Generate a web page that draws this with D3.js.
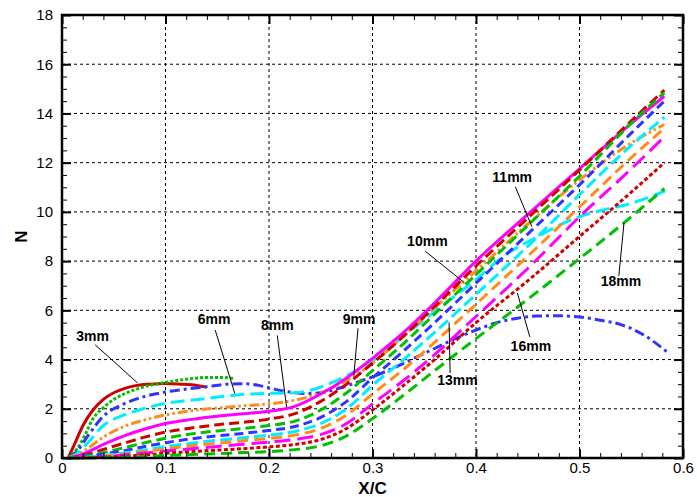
<!DOCTYPE html>
<html><head><meta charset="utf-8">
<script src="https://cdn.jsdelivr.net/npm/d3@7"></script>
<style>
html,body{margin:0;padding:0;background:#fff;}
text{font-family:"Liberation Sans",Arial,Helvetica,sans-serif;}
</style></head>
<body><svg id="chart" width="697" height="497"></svg>
<script>
// ---- data ----
const xTicks = [0, 0.1, 0.2, 0.3, 0.4, 0.5, 0.6];
const yTicks = [0, 2, 4, 6, 8, 10, 12, 14, 16, 18];
const grid = [0.006,0.015,0.025,0.04,0.06,0.08,0.1,0.125,0.15,0.175,0.2,0.225,0.25,0.275,0.3,0.33,0.36,0.4,0.45,0.5,0.55,0.582];

const x3 = [0.006,0.012,0.02,0.03,0.04,0.05,0.06,0.07,0.085,0.1,0.115,0.13,0.14];
const n3 = [0,0.55,1.3,1.95,2.38,2.65,2.82,2.93,3.0,3.03,3.0,2.95,2.88];
const x4 = [0.006,0.015,0.02,0.03,0.04,0.05,0.06,0.08,0.1,0.12,0.14,0.155,0.167];
const n4 = [0,0.4,0.75,1.6,2.05,2.38,2.6,2.9,3.07,3.2,3.27,3.27,3.22];
const x5 = [0.007,0.015,0.025,0.04,0.06,0.08,0.1,0.12,0.14,0.16,0.175,0.19,0.205,0.22,0.235,0.25,0.265,0.28,0.3,0.32,0.34,0.36,0.38,0.4,0.42,0.44,0.46,0.48,0.5,0.52,0.54,0.56,0.585];
const n5 = [0,0.3,0.9,1.7,2.2,2.5,2.68,2.8,2.9,3.0,3.02,2.95,2.8,2.68,2.62,2.65,2.8,3.0,3.3,3.65,4.05,4.45,4.85,5.2,5.5,5.68,5.77,5.78,5.73,5.6,5.42,5.05,4.3];
const x6 = [0.006,0.015,0.025,0.04,0.06,0.08,0.1,0.12,0.14,0.16,0.18,0.2,0.22,0.24,0.26,0.28,0.3,0.33,0.36,0.4,0.43,0.46,0.48,0.5,0.52,0.55,0.583];
const n6 = [0,0.2,0.62,1.32,1.75,2.02,2.22,2.33,2.42,2.52,2.6,2.63,2.64,2.75,3.05,3.45,3.95,4.95,5.95,7.25,8.3,9.0,9.45,9.8,10.05,10.35,10.85];
const n7  = [0,0.12,0.4,0.85,1.28,1.55,1.75,1.92,2.03,2.12,2.2,2.35,2.65,3.15,3.85,4.95,6.1,7.6,9.5,11.3,12.8,13.55];
const n8  = [0,0.08,0.25,0.55,0.9,1.18,1.4,1.57,1.7,1.8,1.9,2.1,2.6,3.25,4.05,5.1,6.3,8.0,9.9,11.75,13.6,14.7];
const n9  = [0,0.05,0.15,0.35,0.6,0.85,1.05,1.22,1.35,1.45,1.58,1.8,2.3,3.0,3.85,4.95,6.15,7.8,9.75,11.7,13.7,14.95];
const n10 = [0,0.03,0.1,0.22,0.42,0.62,0.8,0.98,1.1,1.2,1.32,1.5,1.95,2.65,3.55,4.65,5.85,7.45,9.45,11.45,13.6,14.85];
const n11 = [0,0.02,0.07,0.16,0.3,0.47,0.62,0.78,0.9,1.0,1.12,1.28,1.65,2.3,3.25,4.35,5.5,7.1,9.1,11.1,13.2,14.5];
const n12 = [0,0.01,0.04,0.1,0.2,0.33,0.46,0.6,0.72,0.82,0.93,1.08,1.4,2.0,2.95,4.0,5.1,6.65,8.6,10.7,12.7,13.85];
const n13 = [0,0,0.02,0.07,0.15,0.26,0.37,0.5,0.6,0.7,0.8,0.93,1.2,1.75,2.6,3.6,4.7,6.25,8.2,10.2,12.2,13.4];
const n14 = [0,0,0.01,0.05,0.12,0.2,0.28,0.38,0.47,0.56,0.65,0.76,0.95,1.4,2.2,3.15,4.2,5.75,7.7,9.8,11.75,13.05];
const n16 = [0,0,0.01,0.03,0.07,0.13,0.19,0.26,0.32,0.38,0.45,0.55,0.75,1.2,1.95,2.95,4.0,5.5,7.2,9.0,10.8,12.0];
const n18 = [0,0,0,0.01,0.03,0.06,0.1,0.14,0.18,0.22,0.26,0.34,0.5,0.9,1.6,2.55,3.55,4.85,6.45,8.1,9.8,10.95];

const seriesNames = ["3mm","4mm","5mm","6mm","7mm","8mm","9mm","10mm","11mm","12mm","13mm","14mm","16mm","18mm"];
const seriesX = [x3, x4, x5, x6, grid, grid, grid, grid, grid, grid, grid, grid, grid, grid];
const seriesN = [n3, n4, n5, n6, n7, n8, n9, n10, n11, n12, n13, n14, n16, n18];
const seriesColor = ["#d00000","#00c000","#3333ff","#00eeff","#ff8c1a","#ff00ff","#d00000","#00c000","#3333ff","#00eeff","#ff8c1a","#ff00ff","#d00000","#00c000"];
const seriesDash = [null,"3,2","10,4,3,4","14,6","10,3,2.5,3,2.5,3",null,"10,5","10,5","9,5","12,5","11,6","16,7","4,2.5","11,6"];

// annotation labels: text, label position, leader start, leader end (data coords)
const labelText = ["3mm","6mm","8mm","9mm","10mm","11mm","13mm","16mm","18mm"];
const labelX = [0.0295,0.147,0.208,0.287,0.353,0.435,0.382,0.453,0.540];
const labelN = [4.9,5.6,5.35,5.6,8.75,11.35,3.1,4.5,7.15];
const leadX0 = [0.032,0.148,0.208,0.286,0.351,0.438,0.375,0.452,0.538];
const leadN0 = [4.6,5.2,4.98,5.27,8.4,11.02,3.45,4.92,7.4];
const leadX1 = [0.073,0.167,0.217,0.282,0.388,0.454,0.374,0.44,0.543];
const leadN1 = [3.05,2.62,2.07,3.37,7.15,9.4,5.5,6.7,9.55];

// ---- drawing ----
const svg = d3.select("#chart");
const L = 62, R = 683, T = 15, B = 458;
const x = d3.scaleLinear().domain([0, 0.6]).range([L, R]);
const y = d3.scaleLinear().domain([0, 18]).range([B, T]);
const xMinor = d3.range(0, 0.6001, 0.02).map(v => +v.toFixed(3));
const yMinor = d3.range(0, 18.001, 0.5).map(v => +v.toFixed(2));

// gridlines
const gg = svg.append("g");
gg.selectAll("line.gx").data(xTicks.slice(1, -1)).join("line")
  .attr("x1", d => x(d)).attr("x2", d => x(d)).attr("y1", T).attr("y2", B)
  .attr("stroke", "#000").attr("stroke-width", 1).attr("stroke-dasharray", "3,3");
gg.selectAll("line.gy").data(yTicks.slice(1, -1)).join("line")
  .attr("y1", d => y(d)).attr("y2", d => y(d)).attr("x1", L).attr("x2", R)
  .attr("stroke", "#000").attr("stroke-width", 1).attr("stroke-dasharray", "3,3");

// curves
const line = d3.line().x(d => x(d[0])).y(d => y(d[1])).curve(d3.curveMonotoneX);
seriesN.forEach((ns, i) => {
  const pts = ns.map((v, j) => [seriesX[i][j], v]);
  const p = svg.append("path").attr("d", line(pts)).attr("fill", "none")
    .attr("stroke", seriesColor[i]).attr("stroke-width", 3).attr("stroke-linejoin", "round");
  if (seriesDash[i]) p.attr("stroke-dasharray", seriesDash[i]);
});

// axes with inward ticks
function styleAxis(g) { g.selectAll("path.domain").remove(); g.selectAll(".tick line").attr("stroke", "#000"); }
const axB = svg.append("g").attr("transform", `translate(0,${B})`)
  .call(d3.axisBottom(x).tickValues(xTicks).tickSize(-9).tickPadding(4).tickFormat(d => d === 0 ? "0" : d3.format(".1f")(d)));
styleAxis(axB); axB.selectAll(".tick line").attr("stroke-width", 2);
axB.selectAll("text").attr("font-size", 15).attr("fill", "#000");
const axBm = svg.append("g").attr("transform", `translate(0,${B})`).call(d3.axisBottom(x).tickValues(xMinor).tickSize(-5).tickFormat(""));
styleAxis(axBm);
const axT = svg.append("g").attr("transform", `translate(0,${T})`).call(d3.axisTop(x).tickValues(xTicks).tickSize(-9).tickFormat(""));
styleAxis(axT); axT.selectAll(".tick line").attr("stroke-width", 2);
const axTm = svg.append("g").attr("transform", `translate(0,${T})`).call(d3.axisTop(x).tickValues(xMinor).tickSize(-5).tickFormat(""));
styleAxis(axTm);
const axL = svg.append("g").attr("transform", `translate(${L},0)`)
  .call(d3.axisLeft(y).tickValues(yTicks).tickSize(-9).tickPadding(9));
styleAxis(axL); axL.selectAll(".tick line").attr("stroke-width", 2);
axL.selectAll("text").attr("font-size", 15).attr("fill", "#000");
const axLm = svg.append("g").attr("transform", `translate(${L},0)`).call(d3.axisLeft(y).tickValues(yMinor).tickSize(-5).tickFormat(""));
styleAxis(axLm);
const axR = svg.append("g").attr("transform", `translate(${R},0)`).call(d3.axisRight(y).tickValues(yTicks).tickSize(-9).tickFormat(""));
styleAxis(axR); axR.selectAll(".tick line").attr("stroke-width", 2);
const axRm = svg.append("g").attr("transform", `translate(${R},0)`).call(d3.axisRight(y).tickValues(yMinor).tickSize(-5).tickFormat(""));
styleAxis(axRm);

// frame
svg.append("rect").attr("x", L).attr("y", T).attr("width", R - L).attr("height", B - T)
  .attr("fill", "none").attr("stroke", "#000").attr("stroke-width", 2.5);

// axis titles
svg.append("text").attr("x", (L + R) / 2).attr("y", 494).attr("text-anchor", "middle")
  .attr("font-size", 17).attr("font-weight", "bold").text("X/C");
svg.append("text").attr("transform", `translate(27,${(T + B) / 2}) rotate(-90)`).attr("text-anchor", "middle")
  .attr("font-size", 17).attr("font-weight", "bold").text("N");

// annotations
labelText.forEach((t, i) => {
  svg.append("line").attr("x1", x(leadX0[i])).attr("y1", y(leadN0[i]))
    .attr("x2", x(leadX1[i])).attr("y2", y(leadN1[i])).attr("stroke", "#000").attr("stroke-width", 1);
  svg.append("text").attr("x", x(labelX[i])).attr("y", y(labelN[i])).attr("text-anchor", "middle")
    .attr("dominant-baseline", "middle").attr("font-size", 14).attr("font-weight", "bold").text(t);
});
</script></body></html>
